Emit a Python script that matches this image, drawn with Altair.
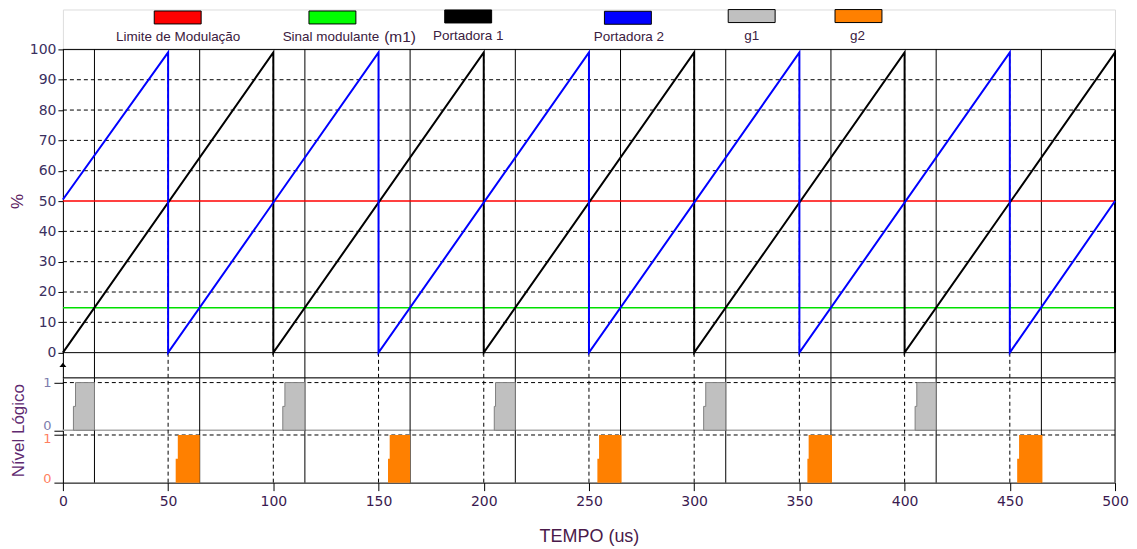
import altair as alt
import pandas as pd

# ---------------- data ----------------
# Portadora 1 (black sawtooth): vertices (time in us, value in %)
portadora1_t = [0, 100, 100, 200, 200, 300, 300, 400, 400, 500, 500]
portadora1_v = [0, 99, 0, 99, 0, 99, 0, 99, 0, 99, 0]
# Portadora 2 (blue sawtooth, shifted half a period)
portadora2_t = [0, 50, 50, 150, 150, 250, 250, 350, 350, 450, 450, 500]
portadora2_v = [50.5, 99, 0, 99, 0, 99, 0, 99, 0, 99, 0, 50]
limite_modulacao = 50      # red line
sinal_m1 = 14.8            # green line (modulating signal m1)
grid_pct = [10, 20, 30, 40, 60, 70, 80, 90]
y_ticks = [0, 10, 20, 30, 40, 50, 60, 70, 80, 90, 100]
x_ticks = [0, 50, 100, 150, 200, 250, 300, 350, 400, 450, 500]
cross_m1_t = [15, 65, 115, 165, 215, 265, 315, 365, 415, 465]   # solid verticals
cross_lim_t = [50, 100, 150, 200, 250, 300, 350, 400, 450]      # dashed verticals
border_t = [500]
# gate pulses: switch-on time (lower half), full-height time, switch-off time
g1_on = [5, 104.5, 205, 304.5, 405]
g1_full = [6, 105.5, 205.6, 305.5, 405.8]
g1_off = [15, 115, 215, 315, 415]
g2_on = [53.6, 154.5, 254, 353.8, 453.5]
g2_full = [54.6, 155.3, 254.8, 354.4, 454.4]
g2_off = [65, 165, 265.5, 365.5, 465.5]

legend_labels = ["Limite de Modulação", "Sinal modulante", "Portadora 1",
                 "Portadora 2", "g1", "g2"]
legend_colors = ["#ff0000", "#00ff00", "#000000", "#0000ff", "#c0c0c0", "#ff8000"]

# ---------------- layout constants ----------------
W = 1054
H_LEG = 40
H_TOP = 329
H_LOW = 105
Y_MIN = -8.3
G1_OFF = 1.1
LOW_TOP = 2.2
PLOT_LEFT = 61
PAGE_TOP = 8
LEG_RECT_CX = [176, 331, 467, 627, 751, 858]
LEG_RECT_CY = [16, 16, 15, 16.3, 14.6, 14.6]
LEG_TEXT_CX = [176.5, 329.5, 467, 628, 751, 857]
LEG_TEXT_BY = [40, 40, 38.3, 39.5, 38.3, 38.3]
RECT_W, RECT_H = 47, 13

LABEL_FONT = "Liberation Sans"
TICK_FONT = "DejaVu Sans"

x_scale = alt.Scale(domain=[0, 500], nice=False, zero=False)
y_top_scale = alt.Scale(domain=[Y_MIN, 100], nice=False, zero=False)
y_low_scale = alt.Scale(domain=[0, LOW_TOP], nice=False, zero=False)

# ---------------- legend strip ----------------
leg = pd.DataFrame({
    "label": legend_labels,
    "color": legend_colors,
    "x": [c - PLOT_LEFT - RECT_W / 2 for c in LEG_RECT_CX],
    "x2": [c - PLOT_LEFT + RECT_W / 2 for c in LEG_RECT_CX],
    "y": [c - PAGE_TOP - RECT_H / 2 for c in LEG_RECT_CY],
    "y2": [c - PAGE_TOP + RECT_H / 2 for c in LEG_RECT_CY],
    "tx": [c - PLOT_LEFT for c in LEG_TEXT_CX],
    "ty": [c - PAGE_TOP for c in LEG_TEXT_BY],
})
leg_rects = alt.Chart(leg).mark_rect(stroke="black", strokeWidth=1).encode(
    x=alt.X("x:Q", scale=None), x2="x2:Q",
    y=alt.Y("y:Q", scale=None), y2="y2:Q",
    fill=alt.Fill("color:N", scale=None),
)
leg_text = alt.Chart(leg).mark_text(
    font=LABEL_FONT, fontSize=13.5, color="#3a2040", align="center", baseline="alphabetic"
).encode(x=alt.X("tx:Q", scale=None), y=alt.Y("ty:Q", scale=None), text="label:N")
m1_df = pd.DataFrame({"text": ["(m1)"], "tx": [398.8 - PLOT_LEFT], "ty": [40.3 - PAGE_TOP]})
leg_m1 = alt.Chart(m1_df).mark_text(
    font=LABEL_FONT, fontSize=15.5, color="#3a2040", align="center", baseline="alphabetic"
).encode(x=alt.X("tx:Q", scale=None), y=alt.Y("ty:Q", scale=None), text="text:N")
legend_chart = alt.layer(leg_rects, leg_text, leg_m1).properties(width=W, height=H_LEG)

# ---------------- top panel (%) ----------------
y_axis_top = alt.Axis(
    values=y_ticks, title="%", titleFont=LABEL_FONT, titleFontSize=17,
    titleFontWeight="normal", titleColor="#5a2060", titleAngle=270,
    titleX=-45, titleY=(100 - 50) / (100 - Y_MIN) * H_TOP,
    titleAlign="center", titleBaseline="middle",
    labelFont=TICK_FONT, labelFontSize=14, labelColor="#3a3060", labelPadding=2,
    tickSize=5, tickColor="black", domainColor="black", grid=False,
    labelFlush=False, labelOverlap=False,
)


def TX(f):
    return alt.X(f, scale=x_scale, axis=None)


def TY(f):
    return alt.Y(f, scale=y_top_scale, axis=y_axis_top)


hgrid = pd.DataFrame({"v": grid_pct, "a": 0, "b": 500})
top_grid = alt.Chart(hgrid).mark_rule(color="black", strokeWidth=1, strokeDash=[4, 3]).encode(
    x=TX("a:Q"), x2="b:Q", y=TY("v:Q"))
frame_h = pd.DataFrame({"v": [100, 0], "a": 0, "b": 500})
top_frame_h = alt.Chart(frame_h).mark_rule(color="black", strokeWidth=1).encode(
    x=TX("a:Q"), x2="b:Q", y=TY("v:Q"))

vd = pd.DataFrame({"t": cross_lim_t, "lo": Y_MIN, "hi": 100})
top_vdash = alt.Chart(vd).mark_rule(color="black", strokeWidth=1, strokeDash=[4, 3]).encode(
    x=TX("t:Q"), y=TY("lo:Q"), y2="hi:Q")
vs = pd.DataFrame({"t": cross_m1_t + border_t, "lo": Y_MIN, "hi": 100})
top_vsolid = alt.Chart(vs).mark_rule(color="black", strokeWidth=1).encode(
    x=TX("t:Q"), y=TY("lo:Q"), y2="hi:Q")

lim = pd.DataFrame({"v": [limite_modulacao], "a": 0, "b": 500})
top_lim = alt.Chart(lim).mark_rule(color="#ff0000", strokeWidth=1.5).encode(
    x=TX("a:Q"), x2="b:Q", y=TY("v:Q"))
m1 = pd.DataFrame({"v": [sinal_m1], "a": 0, "b": 500})
top_m1 = alt.Chart(m1).mark_rule(color="#00e000", strokeWidth=1.5).encode(
    x=TX("a:Q"), x2="b:Q", y=TY("v:Q"))

p1 = pd.DataFrame({"t": portadora1_t, "v": portadora1_v, "i": range(len(portadora1_t))})
top_p1 = alt.Chart(p1).mark_line(color="black", strokeWidth=2).encode(
    x=TX("t:Q"), y=TY("v:Q"), order="i:Q")
p2 = pd.DataFrame({"t": portadora2_t, "v": portadora2_v, "i": range(len(portadora2_t))})
top_p2 = alt.Chart(p2).mark_line(color="#0000ff", strokeWidth=2).encode(
    x=TX("t:Q"), y=TY("v:Q"), order="i:Q")

arrow = pd.DataFrame({"t": [0], "v": [-4.0]})
top_arrow = alt.Chart(arrow).mark_point(
    shape="M-1,0.6L0,-0.6L1,0.6Z", filled=True, color="black", size=49, opacity=1
).encode(x=TX("t:Q"), y=TY("v:Q"))

top_chart = alt.layer(
    top_grid, top_vdash, top_vsolid, top_frame_h, top_lim, top_m1, top_p1, top_p2, top_arrow
).properties(width=W, height=H_TOP)

# ---------------- lower panel (logic level) ----------------
x_axis = alt.Axis(
    values=x_ticks, title="TEMPO (us)", titleFont=LABEL_FONT, titleFontSize=18,
    titleFontWeight="normal", titleColor="#4a1a4a", titlePadding=19,
    labelFont=TICK_FONT, labelFontSize=14, labelColor="#3a1a50", labelPadding=4,
    tickSize=8, tickColor="black", domainColor="black",
    labelFlush=False, labelOverlap=False, grid=False,
)
# tick values: 0 / 1 of g2 (bottom band) and 0 / 1 of g1 (upper band, offset 1.1)
is_g1 = "datum.value > 1.05"
y_axis_low = alt.Axis(
    values=[0, 1, G1_OFF, G1_OFF + 1],
    labelExpr="(datum.value > 0.5 && datum.value < 1.05) || datum.value > 1.5 ? '1' : '0'",
    labelColor=alt.expr(f"{is_g1} ? '#7c7cac' : '#ff8060'"),
    labelBaseline=alt.expr(
        "datum.value < 0.5 ? 'alphabetic' : (datum.value < 1.05 ? 'top' : "
        "(datum.value < 1.5 ? 'bottom' : 'middle'))"),
    labelOffset=alt.expr(
        "datum.value > 0.5 && datum.value < 1.05 ? -2.8 : "
        "(datum.value > 1.05 && datum.value < 1.5 ? 2 : 0)"),
    title="Nível Lógico", titleFont=LABEL_FONT, titleFontSize=17,
    titleFontWeight="normal", titleColor="#602a70", titleAngle=270,
    titleX=-44, titleY=H_LOW / 2, titleAlign="center", titleBaseline="middle",
    labelFont=TICK_FONT, labelFontSize=13, labelPadding=3,
    tickSize=9, tickColor="black", domainColor="black", grid=False,
    labelFlush=False, labelOverlap=False,
)


def LX(f):
    return alt.X(f, scale=x_scale, axis=x_axis)


def LY(f):
    return alt.Y(f, scale=y_low_scale, axis=y_axis_low)


low_h_solid = pd.DataFrame({"v": [LOW_TOP], "a": 0, "b": 500})
low_top = alt.Chart(low_h_solid).mark_rule(color="black", strokeWidth=1).encode(
    x=LX("a:Q"), x2="b:Q", y=LY("v:Q"))
low_h_dash = pd.DataFrame({"v": [1, G1_OFF + 1], "a": 0, "b": 500})
low_dash = alt.Chart(low_h_dash).mark_rule(color="black", strokeWidth=1, strokeDash=[4, 3]).encode(
    x=LX("a:Q"), x2="b:Q", y=LY("v:Q"))
low_h_gray = pd.DataFrame({"v": [G1_OFF], "a": 0, "b": 500})
low_gray = alt.Chart(low_h_gray).mark_rule(color="#a8a8a8", strokeWidth=1.5).encode(
    x=LX("a:Q"), x2="b:Q", y=LY("v:Q"))

lvd = pd.DataFrame({"t": cross_lim_t, "lo": 0, "hi": LOW_TOP})
low_vdash = alt.Chart(lvd).mark_rule(color="black", strokeWidth=1, strokeDash=[4, 3]).encode(
    x=LX("t:Q"), y=LY("lo:Q"), y2="hi:Q")
lvs = pd.DataFrame({"t": cross_m1_t + border_t, "lo": 0, "hi": LOW_TOP})
low_vsolid = alt.Chart(lvs).mark_rule(color="black", strokeWidth=1).encode(
    x=LX("t:Q"), y=LY("lo:Q"), y2="hi:Q")


def pulses(on, full, off, offset, name):
    rows = []
    for k, (a, b, c) in enumerate(zip(on, full, off)):
        rows.append({"p": f"{name}{k}", "t": a, "y": offset + 0.5, "base": offset})
        rows.append({"p": f"{name}{k}", "t": b, "y": offset + 1, "base": offset})
        rows.append({"p": f"{name}{k}", "t": c, "y": offset + 1, "base": offset})
    return pd.DataFrame(rows)


g1_df = pulses(g1_on, g1_full, g1_off, G1_OFF, "g1_")
g2_df = pulses(g2_on, g2_full, g2_off, 0, "g2_")
low_g1 = alt.Chart(g1_df).mark_area(
    interpolate="step-after", fill="#c0c0c0", stroke="#808080", strokeWidth=1, opacity=1
).encode(x=LX("t:Q"), y=LY("y:Q"), y2="base:Q", detail="p:N")
low_g2 = alt.Chart(g2_df).mark_area(
    interpolate="step-after", fill="#ff8000", opacity=1
).encode(x=LX("t:Q"), y=LY("y:Q"), y2="base:Q", detail="p:N")

low_chart = alt.layer(
    low_top, low_dash, low_gray, low_vdash, low_vsolid, low_g1, low_g2
).properties(width=W, height=H_LOW)

chart = alt.vconcat(
    legend_chart, top_chart, low_chart, spacing=0, bounds="flush"
).properties(
    padding={"left": 0, "top": 0, "right": 0, "bottom": 0}
).configure_view(stroke=None).configure(background="white")

chart.save("out.html", embed_options={"renderer": "svg", "actions": False})
